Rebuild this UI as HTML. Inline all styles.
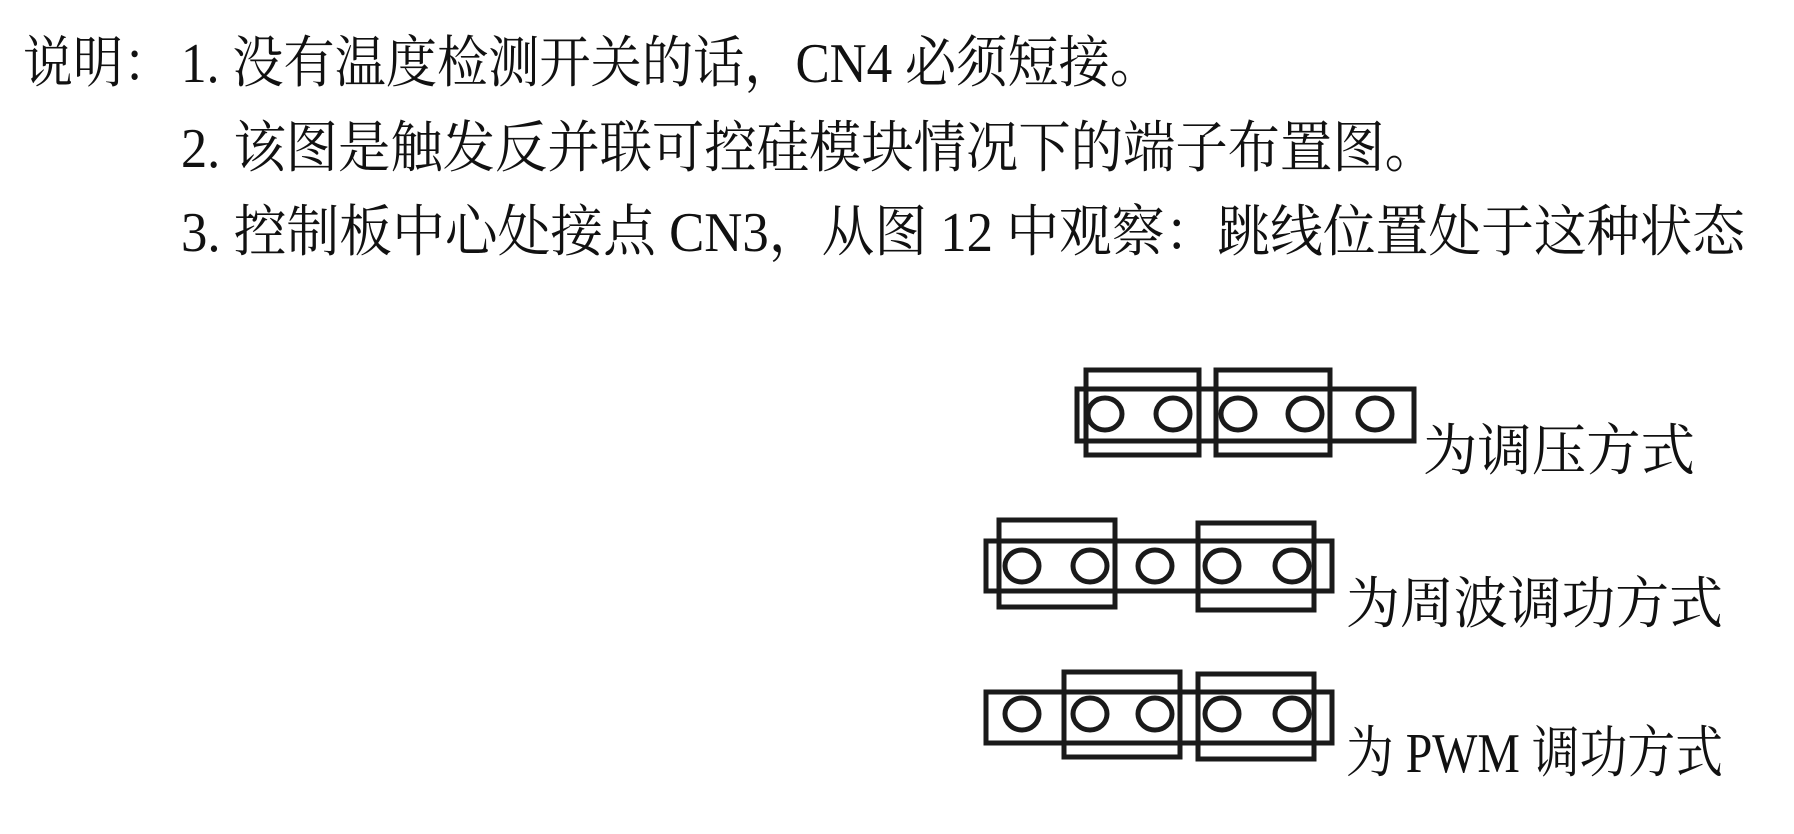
<!DOCTYPE html>
<html><head><meta charset="utf-8"><style>
html,body{margin:0;padding:0;background:#fff;}
svg{display:block;}
text{font-family:"Liberation Serif","Noto Serif CJK SC",serif;font-size:56px;fill:#111;}
</style></head><body>
<svg width="1794" height="834" viewBox="0 0 1794 834" xmlns="http://www.w3.org/2000/svg">
<text x="23" y="82" textLength="150" lengthAdjust="spacingAndGlyphs">说明：</text>
<text x="181" y="82" textLength="980" lengthAdjust="spacingAndGlyphs">1. 没有温度检测开关的话，CN4 必须短接。</text>
<text x="181" y="167" textLength="1256" lengthAdjust="spacingAndGlyphs">2. 该图是触发反并联可控硅模块情况下的端子布置图。</text>
<text x="181" y="251" textLength="1564" lengthAdjust="spacingAndGlyphs">3. 控制板中心处接点 CN3，从图 12 中观察：跳线位置处于这种状态</text>
<g fill="none" stroke="#1a1a1a" stroke-width="5">
<rect x="1077" y="389" width="337" height="52"/>
<rect x="1086" y="370" width="113" height="85"/>
<rect x="1216" y="370" width="114" height="85"/>
<ellipse cx="1105" cy="414" rx="17" ry="16"/>
<ellipse cx="1173" cy="414" rx="17" ry="16"/>
<ellipse cx="1238" cy="414" rx="17" ry="16"/>
<ellipse cx="1305" cy="414" rx="17" ry="16"/>
<ellipse cx="1375" cy="414" rx="17" ry="16"/>

<rect x="986" y="541" width="346" height="50"/>
<rect x="999" y="520" width="116" height="87"/>
<rect x="1198" y="523" width="116" height="87"/>
<ellipse cx="1022" cy="566" rx="17" ry="16"/>
<ellipse cx="1090" cy="566" rx="17" ry="16"/>
<ellipse cx="1155" cy="566" rx="17" ry="16"/>
<ellipse cx="1222" cy="566" rx="17" ry="16"/>
<ellipse cx="1292" cy="566" rx="17" ry="16"/>

<rect x="986" y="692" width="346" height="51"/>
<rect x="1064" y="672" width="116" height="85"/>
<rect x="1198" y="674" width="116" height="85"/>
<ellipse cx="1022" cy="714" rx="17" ry="16"/>
<ellipse cx="1090" cy="714" rx="17" ry="16"/>
<ellipse cx="1155" cy="714" rx="17" ry="16"/>
<ellipse cx="1222" cy="714" rx="17" ry="16"/>
<ellipse cx="1292" cy="714" rx="17" ry="16"/>
</g>
<text x="1423" y="470" textLength="272" lengthAdjust="spacingAndGlyphs">为调压方式</text>
<text x="1346" y="623" textLength="377" lengthAdjust="spacingAndGlyphs">为周波调功方式</text>
<text x="1346" y="772" textLength="377" lengthAdjust="spacingAndGlyphs">为 PWM 调功方式</text>
</svg>
</body></html>
